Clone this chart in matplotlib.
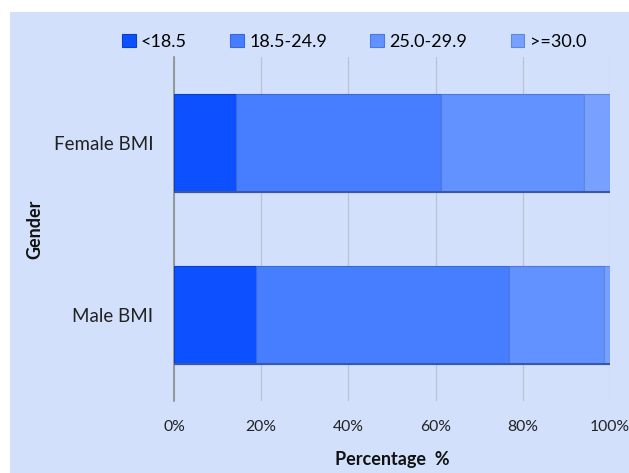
import numpy as np
import matplotlib.pyplot as plt
from matplotlib.patches import Rectangle

# BMI class shares (percent) for each group
groups = ["Male BMI", "Female BMI"]
classes = ["<18.5", "18.5-24.9", "25.0-29.9", ">=30.0"]
male = [18.9, 57.9, 21.9, 1.3]
female = [14.2, 47.0, 32.8, 6.0]
colors = ["#0D50FF", "#467EFF", "#6192FF", "#78A0FF"]
edges = ["#0B3FC8", "#3A68D8", "#5078D8", "#6286D8"]

plt.rcParams['font.family'] = ['Lato', 'DejaVu Sans']

fig = plt.figure(figsize=(6.29, 4.73), dpi=100)
fig.patch.set_facecolor("white")
bg = "#D2E0FC"
fig.patches.append(Rectangle((10 / 629, 0), 1 - 10 / 629, 1 - 12 / 473,
                             transform=fig.transFigure, facecolor=bg,
                             edgecolor="none", zorder=-10))

ax = fig.add_axes([174 / 629, 1 - 401 / 473, 436 / 629, 344 / 473])
ax.set_facecolor(bg)

data = np.array([male, female])
ypos = np.arange(len(groups))
left = np.zeros(len(groups))
h = 0.57
for i, cls in enumerate(classes):
    ax.barh(ypos, data[:, i], left=left, height=h, color=colors[i],
            edgecolor=edges[i], linewidth=0.8, label=cls, zorder=3)
    left += data[:, i]

# darker rim along the bottom of each bar
for y in ypos:
    ax.plot([0, 100], [y - h / 2, y - h / 2], color="#3B58A8", lw=1.5, zorder=4)

ax.set_xlim(0, 100)
ax.set_ylim(-0.5, 1.5)
ax.set_xticks(np.arange(0, 101, 20))
ax.set_xticklabels([f"{v}%" for v in range(0, 101, 20)], fontsize=11.3, color="#222222")
ax.set_yticks(ypos)
ax.set_yticklabels(groups, fontsize=13.5, color="#222222")
ax.tick_params(axis="x", length=0, pad=14)
ax.tick_params(axis="y", length=0, pad=15)
ax.grid(axis="x", color="#BCC3CE", lw=0.9, zorder=1)

for s in ["top", "right", "bottom"]:
    ax.spines[s].set_visible(False)
ax.spines["left"].set_color("#8C8C8C")
ax.spines["left"].set_linewidth(1.2)

fig.text(392 / 629, 1 - 459 / 473, "Percentage  %", ha="center", va="center",
         fontsize=13, fontweight="bold", color="#111111")
fig.text(35 / 629, 1 - 229 / 473, "Gender", ha="center", va="center",
         rotation=90, fontsize=13, fontweight="bold", color="#111111")

ax.legend(loc="center", bbox_to_anchor=(354 / 629, 1 - 42 / 473),
          bbox_transform=fig.transFigure, ncol=4, frameon=False,
          fontsize=13, handlelength=0.75, handleheight=0.75,
          handletextpad=0.3, columnspacing=2.4)

fig.savefig("out.png", dpi=100)
